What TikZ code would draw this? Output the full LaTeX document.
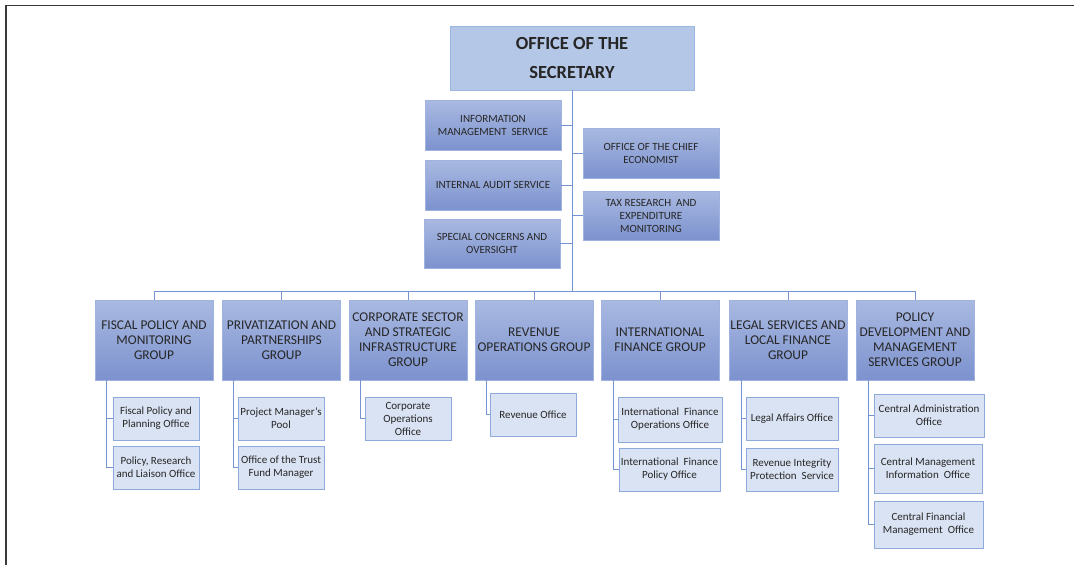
\documentclass[tikz,border=0pt]{standalone}
\usepackage{fontspec}
\setmainfont{Carlito}
\definecolor{ctop}{HTML}{B4C7E7}
\definecolor{ctopb}{HTML}{9DB5E3}
\definecolor{cg1}{HTML}{A9B9E1}
\definecolor{cg2}{HTML}{7C92CE}
\definecolor{cgb}{HTML}{9FB2E0}
\definecolor{csub}{HTML}{DAE3F3}
\definecolor{csubb}{HTML}{8EA9DB}
\definecolor{cline}{HTML}{7393D3}
\definecolor{ctxt}{HTML}{262626}
\definecolor{cframe}{HTML}{3A3A3A}
\begin{document}
\begin{tikzpicture}[x=1pt,y=-1pt,
  topbox/.style={draw=ctopb, fill=ctop, minimum width=244pt, minimum height=64pt, inner sep=0pt,
    align=center, text=ctxt, font=\fontsize{18.5}{29}\selectfont\bfseries},
  staffbox/.style={draw=cgb, top color=cg1, bottom color=cg2, minimum width=136pt, minimum height=50pt,
    inner sep=0pt, align=center, text=ctxt, font=\fontsize{11}{13}\selectfont},
  grpbox/.style={draw=cgb, top color=cg1, bottom color=cg2, minimum width=118pt, minimum height=80pt,
    inner sep=0pt, align=center, text=ctxt, font=\fontsize{13.4}{15}\selectfont},
  subbox/.style={draw=csubb, fill=csub, minimum width=86pt, minimum height=43pt,
    inner sep=0pt, align=center, text=ctxt, font=\fontsize{11}{13}\selectfont},
  link/.style={draw=cline, line width=1pt}]
\useasboundingbox (0,0) rectangle (1074,565);
\draw[cframe, line width=1.6pt] (6,565) -- (6,5.5) -- (1074,5.5);

% top
\node[topbox] (top) at (572,58) {OFFICE OF THE\\SECRETARY};

% staff
\node[staffbox] (info) at (493,125.5) {INFORMATION\\MANAGEMENT \ SERVICE};
\node[staffbox] (audit) at (493,185) {INTERNAL AUDIT SERVICE};
\node[staffbox, minimum height=49pt] (special) at (492,243.5) {SPECIAL CONCERNS AND\\OVERSIGHT};
\node[staffbox] (chief) at (651,153) {OFFICE OF THE CHIEF\\ECONOMIST};
\node[staffbox, minimum height=49pt] (tax) at (651,215.5) {TAX RESEARCH \ AND\\EXPENDITURE\\MONITORING};

% groups
\node[grpbox] (g1) at (154,340) {FISCAL POLICY AND\\MONITORING\\GROUP};
\node[grpbox] (g2) at (281.5,340) {PRIVATIZATION AND\\PARTNERSHIPS\\GROUP};
\node[grpbox] (g3) at (408,340) {CORPORATE SECTOR\\AND STRATEGIC\\INFRASTRUCTURE\\GROUP};
\node[grpbox] (g4) at (534,340) {REVENUE\\OPERATIONS GROUP};
\node[grpbox] (g5) at (660,340) {INTERNATIONAL\\FINANCE GROUP};
\node[grpbox] (g6) at (788,340) {LEGAL SERVICES AND\\LOCAL FINANCE\\GROUP};
\node[grpbox] (g7) at (915,340) {POLICY\\DEVELOPMENT AND\\MANAGEMENT\\SERVICES GROUP};

% sub offices
\node[subbox] (s11) at (156,418.5) {Fiscal Policy and\\Planning Office};
\node[subbox] (s12) at (156,467.5) {Policy, Research\\and Liaison Office};
\node[subbox] (s21) at (281,418.5) {Project Manager's\\Pool};
\node[subbox] (s22) at (281,467.5) {Office of the Trust\\Fund Manager};
\node[subbox] (s31) at (408,418.5) {Corporate\\Operations\\Office};
\node[subbox] (s41) at (533,414.5) {Revenue Office};
\node[subbox, minimum width=104pt, minimum height=45pt] (s51) at (670,419.5) {International \ Finance\\Operations Office};
\node[subbox, minimum width=101pt] (s52) at (669.5,469.5) {International \ Finance\\Policy Office};
\node[subbox, minimum width=92pt] (s61) at (792,418.5) {Legal Affairs Office};
\node[subbox, minimum width=92pt] (s62) at (792,469.5) {Revenue Integrity\\Protection \ Service};
\node[subbox, minimum width=110pt] (s71) at (929,415.5) {Central Administration\\Office};
\node[subbox, minimum width=108pt, minimum height=49pt] (s72) at (928,468.5) {Central Management\\Information \ Office};
\node[subbox, minimum width=109pt, minimum height=47pt] (s73) at (928.5,524.5) {Central Financial\\Management \ Office};

% connectors: trunk and staff
\coordinate (busL) at (154,291);
\coordinate (busR) at (915,291);
\draw[link] (top.south) -- (top.south |- busL);
\draw[link] (busL) -- (busR);
\foreach \s in {info,audit,special} {\draw[link] (\s.east) -- (\s.east -| top.south);}
\foreach \s in {chief,tax} {\draw[link] (\s.west) -- (\s.west -| top.south);}
\foreach \g in {g1,g2,g3,g4,g5,g6,g7} {\draw[link] (\g.north) -- (\g.north |- busL);}

% connectors: groups to offices
\draw[link] ([xshift=12pt]g1.south west) |- (s12.west);
\draw[link] ([xshift=12pt]g1.south west) |- (s11.west);
\draw[link] ([xshift=11pt]g2.south west) |- (s22.west);
\draw[link] ([xshift=11pt]g2.south west) |- (s21.west);
\draw[link] ([xshift=12pt]g3.south west) |- (s31.west);
\draw[link] ([xshift=12pt]g4.south west) |- (s41.west);
\draw[link] ([xshift=13pt]g5.south west) |- (s52.west);
\draw[link] ([xshift=13pt]g5.south west) |- (s51.west);
\draw[link] ([xshift=13pt]g6.south west) |- (s62.west);
\draw[link] ([xshift=13pt]g6.south west) |- (s61.west);
\draw[link] ([xshift=13pt]g7.south west) |- (s73.west);
\draw[link] ([xshift=13pt]g7.south west) |- (s72.west);
\draw[link] ([xshift=13pt]g7.south west) |- (s71.west);
\end{tikzpicture}
\end{document}
